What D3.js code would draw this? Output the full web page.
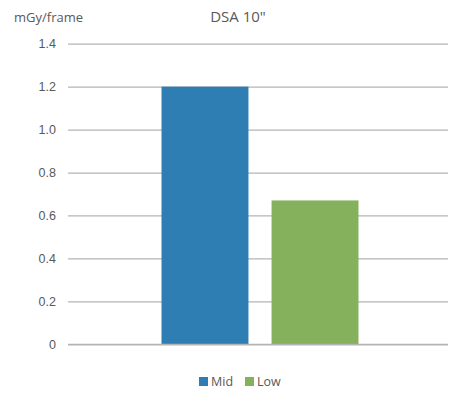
<!DOCTYPE html>
<html>
<head>
<meta charset="utf-8">
<script src="https://cdn.jsdelivr.net/npm/d3@7"></script>
<style>
  html, body { margin: 0; padding: 0; background: #fff; }
  svg { display: block; font-family: "Open Sans", "Liberation Sans", sans-serif; }
</style>
</head>
<body>
<svg id="chart" width="449" height="394"></svg>
<script>
// Dose per frame, DSA 10" field of view
const categories = ["DSA 10\""];
const seriesNames = ["Mid", "Low"];
const seriesValues = [1.2, 0.67];
const seriesColors = ["#2e7eb4", "#86b15c"];
const yTicks = [0, 0.2, 0.4, 0.6, 0.8, 1.0, 1.2, 1.4];
const yTickLabels = ["0", "0.2", "0.4", "0.6", "0.8", "1.0", "1.2", "1.4"];
const yUnit = "mGy/frame";

const svg = d3.select("#chart");
const margin = { left: 68, right: 1, top: 43.7, bottom: 49.7 };
const W = 449, H = 394;

const y = d3.scaleLinear().domain([0, 1.4]).range([H - margin.bottom, margin.top]);
const x0 = d3.scaleBand().domain(categories).range([margin.left + 2, W - margin.right + 2]).paddingOuter(0.4645).paddingInner(0);
const x1 = d3.scaleBand().domain(seriesNames).range([0, x0.bandwidth()]).paddingInner(0.21).paddingOuter(0);

// gridlines and tick labels
const yAxis = d3.axisLeft(y).tickValues(yTicks)
  .tickFormat((d, i) => yTickLabels[i])
  .tickSize(-(W - margin.left - margin.right)).tickPadding(12);
const ga = svg.append("g").attr("transform", `translate(${margin.left},0)`).call(yAxis);
ga.select(".domain").remove();
ga.selectAll(".tick line").attr("stroke", "#b4b4b4").attr("stroke-width", 1.3);
ga.selectAll(".tick text").attr("fill", "#595959").style("font-size", "12.5px");

// bars
const g = svg.append("g").attr("transform", `translate(${x0(categories[0])},0)`);
g.selectAll("rect").data(seriesNames).join("rect")
  .attr("x", d => x1(d))
  .attr("width", x1.bandwidth())
  .attr("y", (d, i) => y(seriesValues[i]))
  .attr("height", (d, i) => y(0) - y(seriesValues[i]))
  .attr("fill", (d, i) => seriesColors[i]);

// baseline redrawn on top of the bars
svg.append("line")
  .attr("x1", margin.left).attr("x2", W - margin.right)
  .attr("y1", y(0)).attr("y2", y(0))
  .attr("stroke", "#b4b4b4").attr("stroke-width", 1.3);

// title and unit
svg.append("text").attr("x", 238).attr("y", 22).attr("text-anchor", "middle")
  .attr("fill", "#595959").style("font-size", "15px").text(categories[0]);
svg.append("text").attr("x", 14).attr("y", 22)
  .attr("fill", "#595959").style("font-size", "13px").text(yUnit);

// legend
const legendX = [199, 245];
const lg = svg.append("g");
seriesNames.forEach((name, i) => {
  lg.append("rect").attr("x", legendX[i]).attr("y", 377).attr("width", 9).attr("height", 9)
    .attr("fill", seriesColors[i]);
  lg.append("text").attr("x", legendX[i] + 12).attr("y", 386)
    .attr("fill", "#595959").style("font-size", "12.5px").text(name);
});
</script>
</body>
</html>
